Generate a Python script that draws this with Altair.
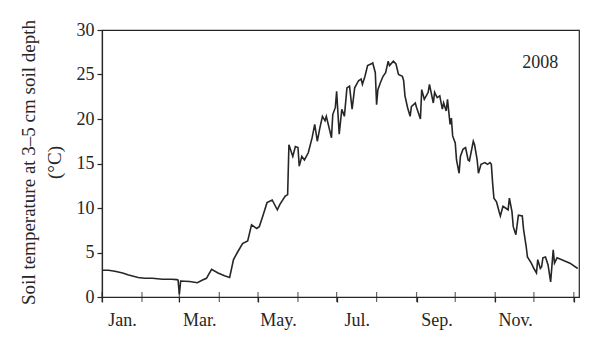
import altair as alt
import pandas as pd

# Day of year (0 = 1 Jan 2008) and soil temperature (°C)
days = [0, 5, 10, 16, 20, 28, 33, 39, 47, 54, 58, 59, 60, 61, 68, 74, 78, 81, 85, 90,
        95, 99, 102, 105, 109, 113, 116, 120, 122, 125, 128, 132, 136, 138, 142, 144,
        145, 148, 150, 152, 153, 155, 157, 160, 163, 165, 167, 169, 171, 173, 174, 178,
        179, 181, 182, 184, 186, 188, 190, 192, 194, 196, 199, 201, 202, 204, 206, 209,
        210, 212, 213, 214, 216, 218, 220, 222, 223, 226, 228, 230, 233, 234, 235, 237,
        239, 240, 243, 244, 247, 248, 250, 253, 254, 257, 258, 260, 262, 264, 265, 267,
        268, 270, 271, 272, 274, 275, 277, 278, 280, 282, 284, 285, 288, 289, 291, 292,
        294, 297, 299, 301, 302, 303, 304, 306, 308, 309, 311, 313, 315, 316, 318, 319,
        321, 322, 323, 326, 327, 329, 330, 333, 335, 337, 338, 340, 341, 342, 344, 346,
        348, 350, 351, 353, 363, 369]
temps = [3.0, 3.0, 2.9, 2.7, 2.5, 2.2, 2.1, 2.1, 2.0, 2.0, 1.95, 1.9, 0.3, 1.8, 1.75, 1.6, 1.9, 2.1, 3.1, 2.7,
         2.4, 2.2, 4.2, 5.0, 6.0, 6.3, 8.1, 7.7, 7.9, 9.2, 10.6, 10.9, 9.8, 10.4, 11.3, 11.5,
         17.1, 15.8, 16.9, 16.8, 14.7, 15.8, 15.4, 16.2, 17.9, 19.4, 17.5, 19.0, 20.3, 19.8, 20.3, 17.9,
         20.5, 21.3, 23.1, 18.3, 21.1, 20.3, 23.5, 23.7, 21.1, 23.5, 24.3, 24.5, 23.9, 24.8, 26.0, 26.2,
         26.3, 25.2, 21.6, 23.3, 24.1, 24.8, 25.2, 26.5, 26.0, 26.5, 26.2, 25.0, 24.8, 24.3, 22.6, 21.3,
         20.3, 21.4, 21.8, 21.3, 20.0, 23.3, 22.2, 23.0, 23.9, 21.8, 23.0, 22.4, 22.6, 21.1, 21.8, 20.9,
         22.2, 19.4, 20.1, 18.1, 17.3, 15.4, 13.9, 15.8, 16.6, 16.8, 15.4, 15.3, 17.5, 17.1, 15.4, 13.9,
         14.9, 15.1, 14.9, 15.1, 14.9, 12.8, 11.1, 10.7, 9.6, 9.1, 10.2, 10.0, 9.8, 11.1, 9.6, 7.9,
         7.0, 8.1, 9.2, 9.1, 7.6, 5.7, 4.5, 3.8, 3.2, 2.7, 4.2, 3.2, 3.4, 4.4, 4.5, 3.6,
         1.7, 5.3, 3.8, 4.4, 3.8, 3.2]

month_ticks = [0, 31, 60, 91, 121, 152, 182, 213, 244, 274, 305, 335, 366]
month_labels = ["Jan.", "", "Mar.", "", "May.", "", "Jul.", "", "Sep.", "", "Nov.", "", ""]
y_ticks = [0, 5, 10, 15, 20, 25, 30]
year_label = ["2008"]
year_pos = [(340, 26.3)]

FONT = "Liberation Serif"
INK = "#262626"

df = pd.DataFrame({"day": days, "temp": temps})
ticks_df = pd.DataFrame({"day": month_ticks})
year_df = pd.DataFrame({"label": year_label, "x": [p[0] for p in year_pos], "y": [p[1] for p in year_pos]})

label_expr = ("[" + ",".join("'" + s + "'" for s in month_labels) + "][indexof(["
              + ",".join(str(t) for t in month_ticks) + "], datum.value)]")

xscale = alt.Scale(domain=[0, 370], nice=False, zero=False)
yscale = alt.Scale(domain=[0, 30], nice=False)

line = alt.Chart(df).mark_line(color=INK, strokeWidth=1.6).encode(
    x=alt.X("day:Q", scale=xscale,
            axis=alt.Axis(values=month_ticks, labelExpr=label_expr, labelOffset=20,
                          title=None, grid=False, tickSize=5, labelPadding=9,
                          labelFont=FONT, labelFontSize=18, labelColor=INK,
                          domainColor=INK, tickColor=INK, domainWidth=1.2, tickWidth=1.2,
                          labelFlush=False, labelOverlap=False)),
    y=alt.Y("temp:Q", scale=yscale,
            axis=alt.Axis(values=y_ticks, grid=False, tickSize=5, labelPadding=3,
                          labelFont=FONT, labelFontSize=18, labelColor=INK,
                          domainColor=INK, tickColor=INK, domainWidth=1.2, tickWidth=1.2,
                          title=["Soil temperature at 3\u20135 cm soil depth", "(\u00b0C)"],
                          titleFont=FONT, titleFontSize=19, titleFontWeight="normal",
                          titleColor=INK, titleLineHeight=26, titleAngle=270,
                          titleBaseline="bottom", titleAlign="center",
                          titleX=-64, titleY=132)),
)

inner_ticks = alt.Chart(ticks_df).mark_tick(orient="vertical", size=10, thickness=1.2, color=INK).encode(
    x=alt.X("day:Q", scale=xscale),
    y=alt.datum(0),
)

year_text = alt.Chart(year_df).mark_text(font=FONT, fontSize=18, color=INK, baseline="middle", align="center").encode(
    x=alt.X("x:Q", scale=xscale),
    y=alt.Y("y:Q", scale=yscale),
    text="label:N",
)

chart = alt.layer(line, inner_ticks, year_text).properties(
    width=477, height=267,
    autosize=alt.AutoSizeParams(type="none"),
    padding={"left": 102, "top": 30, "right": 21, "bottom": 56},
    background="white",
).configure_view(stroke=INK, strokeWidth=1.2)

chart.save("out.html", embed_options={"renderer": "svg", "actions": False})
